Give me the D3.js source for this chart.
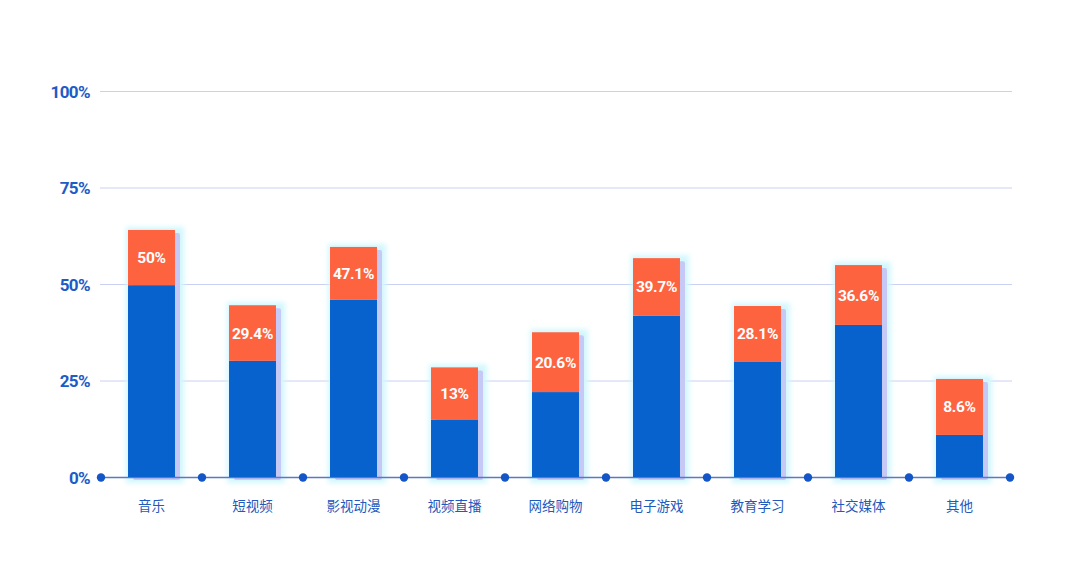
<!DOCTYPE html>
<html>
<head>
<meta charset="utf-8">
<script src="https://cdn.jsdelivr.net/npm/d3@7"></script>
<style>
  html, body { margin: 0; padding: 0; background: #ffffff; }
  svg { display: block; }
</style>
</head>
<body>
<svg id="chart" width="1080" height="583"></svg>
<script>
// ---- data ----
const categories = ["音乐", "短视频", "影视动漫", "视频直播", "网络购物", "电子游戏", "教育学习", "社交媒体", "其他"];
const blueValues = [49.7, 30.1, 45.9, 14.9, 22.0, 41.8, 29.8, 39.4, 10.9];
const orangeValues = [14.3, 14.4, 13.7, 13.5, 15.5, 14.9, 14.5, 15.5, 14.5];
const valueLabels = ["50%", "29.4%", "47.1%", "13%", "20.6%", "39.7%", "28.1%", "36.6%", "8.6%"];
const yTicks = [0, 25, 50, 75, 100];
const yTickLabels = ["0%", "25%", "50%", "75%", "100%"];

// ---- layout ----
const svg = d3.select("#chart");
const plotLeft = 101, plotRight = 1010, plotTop = 91, plotBottom = 477;

const x = d3.scaleBand().domain(categories).range([plotLeft, plotRight])
  .paddingInner(0.535).paddingOuter(0.2675);
const y = d3.scaleLinear().domain([0, 100]).range([plotBottom, plotTop]);

const defs = svg.append("defs");
const f = defs.append("filter").attr("id", "glow")
  .attr("x", "-50%").attr("y", "-50%").attr("width", "200%").attr("height", "200%");
f.append("feGaussianBlur").attr("stdDeviation", 2.5);

// gridlines
svg.append("g").selectAll("line").data(yTicks.filter(d => d > 0)).join("line")
  .attr("x1", plotLeft - 1).attr("x2", plotRight + 2)
  .attr("y1", d => y(d) + 0.5).attr("y2", d => y(d) + 0.5)
  .attr("stroke", "#c9d0f2").attr("stroke-width", 1);

// y labels
svg.append("g").selectAll("text").data(yTicks).join("text")
  .attr("x", 90).attr("y", d => y(d) + 6.5)
  .attr("text-anchor", "end")
  .attr("font-family", "Roboto, 'DejaVu Sans', sans-serif")
  .attr("font-weight", 700).attr("font-size", 17)
  .attr("letter-spacing", -0.6)
  .attr("fill", "#1d5bc6")
  .text((d, i) => yTickLabels[i]);

const bars = categories.map((c, i) => ({
  c, blue: blueValues[i], orange: orangeValues[i], label: valueLabels[i]
}));

const bw = x.bandwidth();

const g = svg.append("g");
g.selectAll("rect.glow").data(bars).join("rect").attr("class", "glow")
  .attr("x", d => x(d.c) - 2).attr("width", bw + 11)
  .attr("y", d => y(d.blue + d.orange) - 3)
  .attr("height", d => plotBottom - y(d.blue + d.orange) + 9)
  .attr("fill", "#d2f7fd").attr("filter", "url(#glow)");
g.selectAll("rect.shadow").data(bars).join("rect").attr("class", "shadow")
  .attr("x", d => x(d.c) + 5).attr("width", bw)
  .attr("y", d => y(d.blue + d.orange) + 3)
  .attr("height", d => plotBottom - y(d.blue + d.orange))
  .attr("rx", 2)
  .attr("fill", "#c6c8f6");

// baseline
svg.append("line").attr("x1", plotLeft).attr("x2", plotRight)
  .attr("y1", plotBottom + 0.5).attr("y2", plotBottom + 0.5)
  .attr("stroke", "#5a78c8").attr("stroke-width", 1.5);

const g2 = svg.append("g");
g2.selectAll("rect.blue").data(bars).join("rect").attr("class", "blue")
  .attr("x", d => x(d.c)).attr("width", bw)
  .attr("y", d => y(d.blue)).attr("height", d => plotBottom - y(d.blue))
  .attr("fill", "#0762cd");
g2.selectAll("rect.orange").data(bars).join("rect").attr("class", "orange")
  .attr("x", d => x(d.c)).attr("width", bw)
  .attr("y", d => y(d.blue + d.orange)).attr("height", d => y(d.blue) - y(d.blue + d.orange))
  .attr("fill", "#fe6340");

g2.selectAll("text.val").data(bars).join("text").attr("class", "val")
  .attr("x", d => x(d.c) + bw / 2)
  .attr("y", d => (y(d.blue) + y(d.blue + d.orange)) / 2 + 5.5)
  .attr("text-anchor", "middle")
  .attr("font-family", "Roboto, 'DejaVu Sans', sans-serif")
  .attr("font-weight", 700).attr("font-size", 15.5)
  .attr("letter-spacing", -0.3)
  .attr("fill", "#ffffff")
  .text(d => d.label);

// dots at band boundaries
const dotX = d3.range(categories.length + 1).map(i => plotLeft + i * x.step());
svg.append("g").selectAll("circle").data(dotX).join("circle")
  .attr("cx", d => d).attr("cy", plotBottom + 0.5).attr("r", 4.2)
  .attr("fill", "#1556c6");

// x labels
svg.append("g").selectAll("text").data(categories).join("text")
  .attr("x", d => x(d) + bw / 2).attr("y", 511)
  .attr("text-anchor", "middle")
  .attr("font-family", "'Noto Sans CJK SC', sans-serif")
  .attr("font-size", 13.5)
  .attr("fill", "#2259bd")
  .text(d => d);
</script>
</body>
</html>
